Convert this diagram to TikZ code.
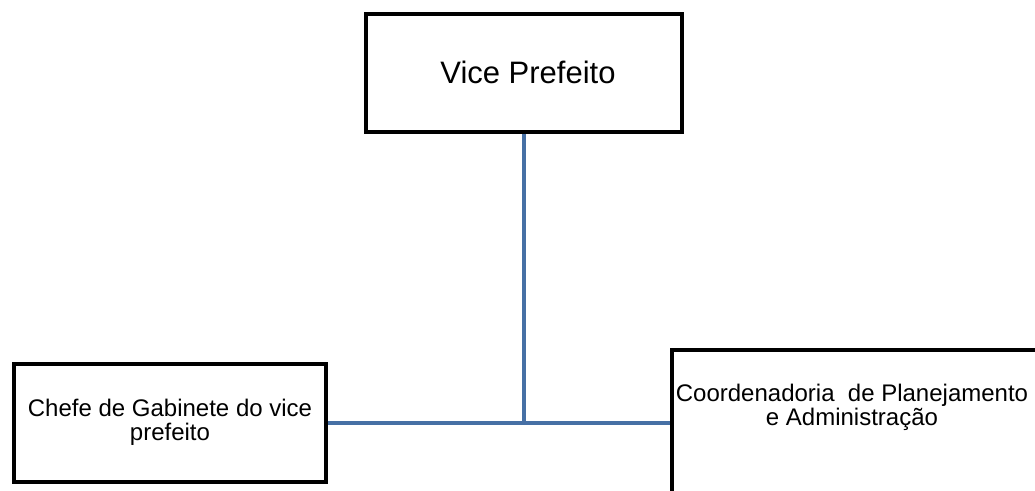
\documentclass[tikz,border=0pt]{standalone}
\usepackage{fontspec}
\setmainfont{Liberation Sans}
\definecolor{connblue}{RGB}{70,112,165}
\begin{document}
\begin{tikzpicture}[x=0.75pt,y=-0.75pt,
  box/.style={draw=black,line width=3pt,fill=white,inner sep=0pt},
  conn/.style={draw=connblue,line width=3pt},
  smalltext/.style={align=center,font=\fontsize{18}{18}\selectfont,inner sep=0pt},
  bigtext/.style={font=\fontsize{23.25}{26}\selectfont,inner sep=0pt}]
\useasboundingbox (0,0) rectangle (1035,490);
\coordinate (j) at (524,423);
\node[box,minimum width=237pt,minimum height=88.5pt] (vp) at (524,73) {};
\node[bigtext] (vptext) at (528,72) {Vice Prefeito};
\node[box,minimum width=233.5pt,minimum height=88.5pt] (chefe) at (170,422.5) {};
\node[smalltext] (chefetext) at (170,422) {Chefe de Gabinete do vice\\prefeito};
\node[box,minimum width=330pt,minimum height=150pt] (cpa) at (892,450) {};
\node[smalltext] (cpatext) at (852,407) {Coordenadoria\ \ de Planejamento\\e Administração};
\draw[conn] (vp.south) -- (j);
\draw[conn] (chefe.east |- j) -- (cpa.west |- j);
\end{tikzpicture}
\end{document}
